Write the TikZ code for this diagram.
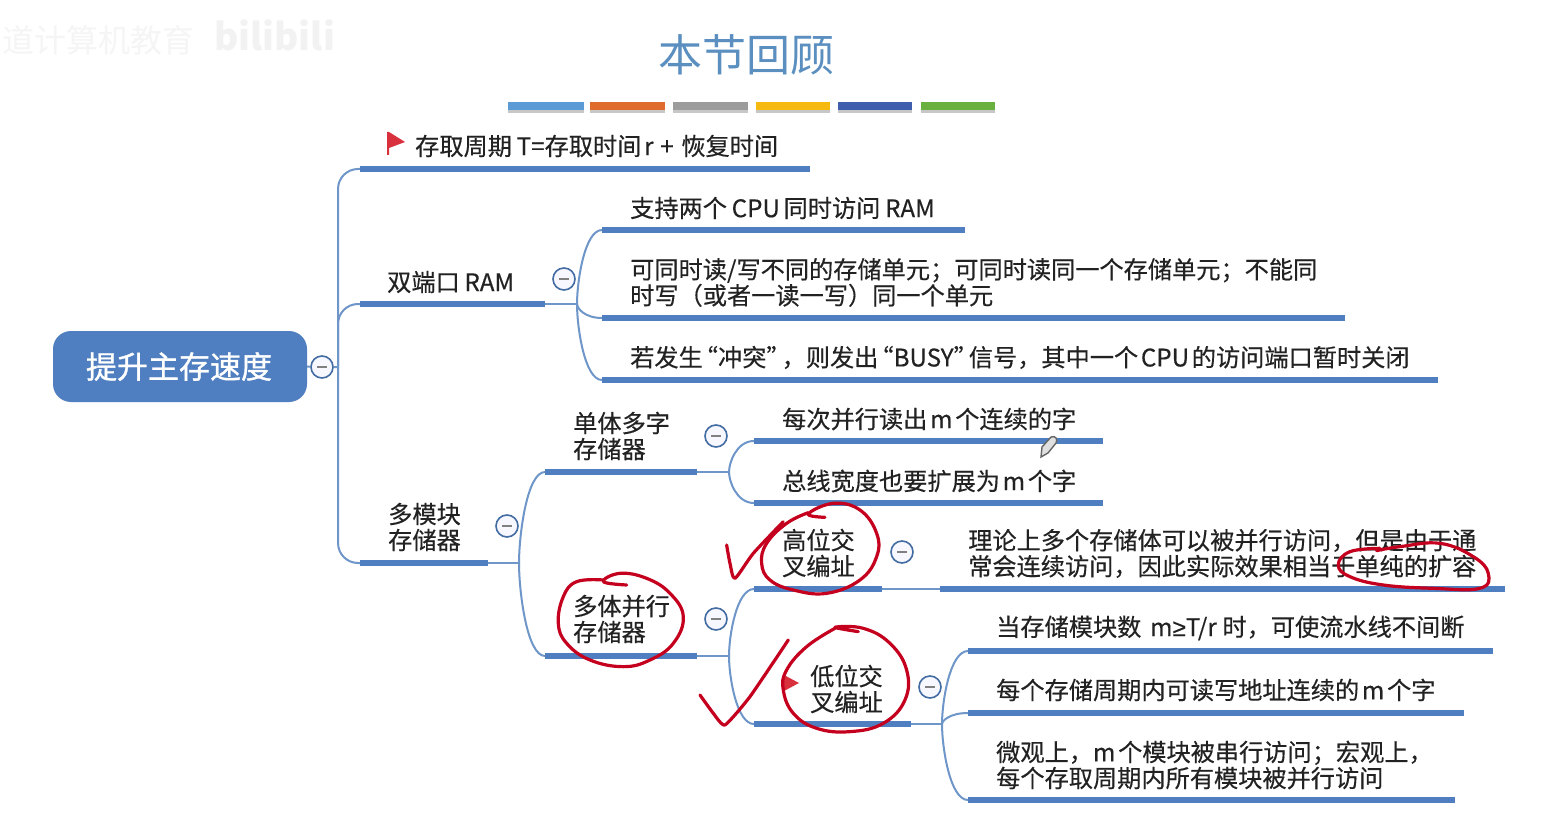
\documentclass[tikz,border=0pt]{standalone}
\usepackage{fontspec}
\newfontfamily\cjk[FakeBold=0.35,WordSpace=0.5]{Noto Sans CJK SC}
\newfontfamily\cjkplain{Noto Sans CJK SC}
\newfontfamily\cjkroot[FakeBold=1.1]{Noto Sans CJK SC}
\newfontfamily\lat[FakeBold=0.35]{Liberation Sans}
\usetikzlibrary{backgrounds,calc}
\definecolor{barblue}{HTML}{4F7FC0}
\definecolor{linkblue}{HTML}{6F96C8}
\definecolor{inkred}{HTML}{C4001E}
\definecolor{txt}{HTML}{222222}
\definecolor{titleblue}{HTML}{5B8FC0}
\definecolor{flagred}{HTML}{D8303C}
\tikzset{
  topic/.style={anchor=west,inner sep=0pt,align=left,text=txt,font=\cjk\fontsize{24.2}{26}\selectfont},
  topicbar/.style={line width=6pt,barblue},
  conn/.style={line width=2pt,linkblue},
  branch/.style={conn,rounded corners=20pt},
  collapse/.style={circle,draw=barblue!85!black,line width=1.6pt,fill=blue!3,minimum size=22pt,inner sep=0pt,
    path picture={\draw[line width=1.6pt,gray] (path picture bounding box.center) ++(-5,0) -- ++(10,0);}},
  ink/.style={draw=inkred,line width=3.2pt,line cap=round,line join=round}
}
\newcommand{\barline}[4]{%
  \coordinate (#1L) at (#2,#4);
  \coordinate (#1R) at (#3,#4);
  \draw[topicbar] (#1L) -- (#1R);
}
\newcommand{\sweep}[2]{\draw[conn] (#1) .. controls ($(#1)!0.3!(#1|-#2)$) and ($(#2)!0.7!(#1|-#2)$) .. (#2);}
\newcommand{\lquo}{\kern-9pt “}
\newcommand{\rquo}{”\kern-9pt }
\begin{document}
\begin{tikzpicture}[x=1pt,y=-1pt]
\useasboundingbox (0,0) rectangle (1550,837);
% watermark
\node[anchor=west,inner sep=0pt,text=black!4,font=\cjkplain\fontsize{32}{32}\selectfont] (wm1) at (2,40) {道计算机教育};
\node[anchor=west,inner sep=0pt,text=black!5,font=\cjkplain\bfseries\fontsize{37}{37}\selectfont] (wm2) at (214,35) {bilibili};
% title
\node[inner sep=0pt,text=titleblue,font=\cjkplain\fontsize{44}{44}\selectfont] (title) at (746,55) {本节回顾};
\foreach \a/\b/\c in {508/584/5B9BD5,590/665/DF6B2C,673/748/9C9C9C,756/830/F5B90F,838/912/3F5FAE,921/995/6AB03E}{
  \definecolor{tc}{HTML}{\c}
  \fill[black!22] (\a,108) rectangle (\b,113);
  \fill[tc] (\a,102) rectangle (\b,110);
}
% root
\node[rounded corners=18pt,fill=barblue,text=white,minimum width=254pt,minimum height=71pt,inner sep=0pt,font=\cjkroot\fontsize{31}{31}\selectfont] (root) at (180,366.5) {提升主存速度\kern2pt};
% bars
\barline{a}{360}{810}{169}
\barline{dual}{360}{545}{304}
\barline{da}{602}{965}{230}
\barline{db}{602}{1345}{318}
\barline{dc}{602}{1438}{380}
\barline{multi}{360}{488}{563}
\barline{single}{545}{697}{472}
\barline{sa}{754}{1103}{441}
\barline{sb}{754}{1103}{503}
\barline{para}{545}{697}{656}
\barline{high}{754}{882}{589}
\barline{ha}{940}{1505}{589}
\barline{low}{754}{911}{724}
\barline{la}{968}{1493}{651}
\barline{lb}{968}{1464}{713}
\barline{lc}{968}{1455}{800}
% junctions
\coordinate (jroot) at (338,367);
\coordinate (jdual) at (577,304);
\coordinate (jmulti) at (519,563);
\coordinate (jsingle) at (729,472);
\coordinate (jpara) at (729,656);
\coordinate (jlow) at (942,724);
% collapse buttons
\node[collapse] (c0) at (322,367) {};
\node[collapse] (c1) at (564,279) {};
\node[collapse] (c2) at (507,526) {};
\node[collapse] (c3) at (716,436) {};
\node[collapse] (c4) at (716,619) {};
\node[collapse] (c5) at (902,552) {};
\node[collapse] (c6) at (930,687) {};
% connectors
\begin{pgfonlayer}{background}
\fill[white] (0,0) rectangle (1550,837);
\draw[conn] (root.east) -- (c0) -- (jroot);
\draw[branch] (jroot) |- (aL);
\draw[branch] (jroot) |- (dualL);
\draw[branch] (jroot) |- (multiL);
\draw[conn] (dualR) -- (jdual);
\sweep{jdual}{daL}
\sweep{jdual}{dbL}
\sweep{jdual}{dcL}
\draw[conn] (multiR) -- (jmulti);
\sweep{jmulti}{singleL}
\sweep{jmulti}{paraL}
\draw[conn] (singleR) -- (jsingle);
\sweep{jsingle}{saL}
\sweep{jsingle}{sbL}
\draw[conn] (paraR) -- (jpara);
\sweep{jpara}{highL}
\sweep{jpara}{lowL}
\draw[conn] (highR) -- (haL);
\draw[conn] (lowR) -- (jlow);
\sweep{jlow}{laL}
\sweep{jlow}{lbL}
\sweep{jlow}{lcL}
\end{pgfonlayer}
% texts
\node[topic] (ta) at (415,146) {存取周期\kern2pt{} T=存取时间 r\kern4pt{} + \kern5pt{}恢复时间};
\node[topic] (tdual) at (387,282) {双端口\kern2pt{} RAM};
\node[topic] (tda) at (630,208) {支持两个\kern2pt{} CPU\kern1pt{} 同时访问\kern2pt{} RAM};
\node[topic] (tdb) at (630,282.5) {可同时读/写不同的存储单元；可同时读同一个存储单元；不能同\\时写（或者一读一写）同一个单元};
\node[topic] (tdc) at (630,357.5) {若发生\lquo 冲突\rquo ，则发出\lquo BUSY\rquo 信号，其中一个 CPU 的访问端口暂时关闭};
\node[topic] (tmulti) at (388,527) {多模块\\存储器};
\node[topic] (tsingle) at (573,436) {单体多字\\存储器};
\node[topic] (tpara) at (573,619) {多体并行\\存储器};
\node[topic] (tsa) at (782,419) {每次并行读出 m 个连续的字};
\node[topic] (tsb) at (782,481) {总线宽度也要扩展为 m 个字};
\node[topic] (thigh) at (782,553) {高位交\\叉编址};
\node[topic] (tha) at (968,553.5) {理论上多个存储体可以被并行访问，但是由于通\\常会连续访问，因此实际效果相当于单纯的扩容};
\node[topic] (tlow) at (810,689) {低位交\\叉编址};
\node[topic] (tla) at (996,628) {当存储模块数\kern6pt{} m{\lat ≥}T/r\kern3pt{} 时，可使流水线不间断};
\node[topic] (tlb) at (996,690) {每个存储周期内可读写地址连续的 m 个字};
\node[topic] (tlc) at (996,765) {微观上，m 个模块被串行访问；宏观上，\\每个存取周期内所有模块被并行访问};
% flags
\fill[flagred] (387,132) -- (389,132) -- (405,142) -- (389,148) -- (389,155) -- (387,155) -- cycle;
\fill[flagred] (784,675) -- (799,683) -- (784,691) -- cycle;
% pencil cursor
\draw[black!60,line width=1.4pt,fill=black!12] (1041,457) -- (1042,447) -- (1051,437) .. controls (1056,435) and (1058,440) .. (1056,443) -- (1048,453) -- cycle;
% hand-drawn ink, zoom coordinates
\begin{scope}[shift={(500,500)},x=0.3333pt,y=-0.3333pt]
\draw[ink] plot[smooth,tension=0.7] coordinates {(975,52)(925,42)(1000,10)(1080,30)(1130,100)(1130,170)(1080,240)(980,280)(880,270)(810,240)(785,190)(800,130)(860,70)(925,38)};
\draw[ink] plot[smooth,tension=0.7] coordinates {(380,255)(310,245)(360,220)(440,235)(510,280)(550,350)(520,430)(450,480)(370,500)(270,480)(200,430)(175,370)(190,290)(230,245)(310,240)};
\draw[ink] plot[smooth,tension=0.7] coordinates {(1075,395)(1005,382)(1090,385)(1170,430)(1220,510)(1215,600)(1150,670)(1050,695)(950,685)(880,640)(850,570)(860,510)(920,440)(1005,385)};
\draw[ink] plot[smooth,tension=0.4] coordinates {(680,135)(690,190)(705,235)(760,160)(850,65)};
\draw[ink] plot[smooth,tension=0.3] coordinates {(600,585)(640,640)(675,675)(750,590)(865,420)};
\end{scope}
\begin{scope}[shift={(1000,510)},x=0.3333pt,y=-0.3333pt]
\draw[ink] plot[smooth,tension=0.7] coordinates {(1130,122)(1200,110)(1320,100)(1420,140)(1465,190)(1440,235)(1300,235)(1150,225)(1050,200)(1015,165)(1050,125)(1140,115)};
\end{scope}
\end{tikzpicture}
\end{document}
